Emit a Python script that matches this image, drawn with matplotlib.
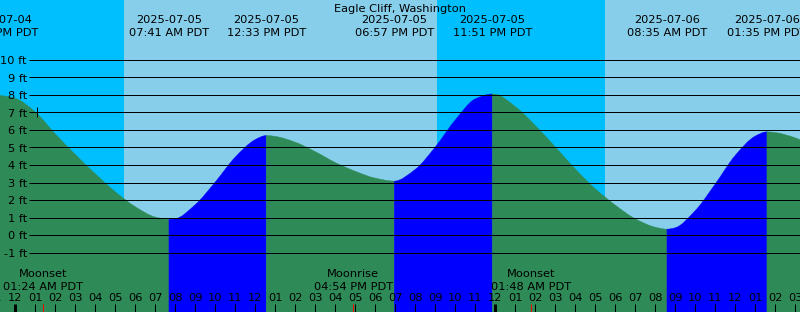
import matplotlib
matplotlib.use("Agg")
import matplotlib.pyplot as plt
from matplotlib.path import Path
from matplotlib.patches import PathPatch
import numpy as np

TITLE = "Eagle Cliff, Washington"

# Time axis: hours after 2025-07-05 00:00 PDT; heights in feet
tide_hours = [-0.82, 0, 1, 2, 3, 4, 5, 6, 7, 7.683, 8, 9, 10, 11, 12, 12.55,
              13, 14, 15, 16, 17, 18, 18.95, 20, 21, 22, 23, 23.85, 24, 25,
              26, 27, 28, 29, 30, 31, 32, 32.583, 33, 34, 35, 36, 37, 37.583,
              38, 39, 39.5]
tide_ft = [7.96, 7.80, 7.02, 5.77, 4.60, 3.50, 2.47, 1.62, 1.03, 0.90, 0.93,
           1.74, 3.03, 4.45, 5.45, 5.68, 5.63, 5.30, 4.76, 4.14, 3.64, 3.25,
           3.08, 3.75, 5.03, 6.57, 7.77, 8.05, 8.04, 7.33, 6.25, 5.03, 3.77,
           2.64, 1.71, 0.93, 0.45, 0.34, 0.42, 1.40, 2.92, 4.55, 5.65, 5.89,
           5.85, 5.55, 5.30]

extreme_hours = [-0.82, 7.683, 12.55, 18.95, 23.85, 32.583, 37.583]
extreme_dates = ["2025-07-04", "2025-07-05", "2025-07-05", "2025-07-05",
                 "2025-07-05", "2025-07-06", "2025-07-06"]
extreme_times = ["11:11 PM PDT", "07:41 AM PDT", "12:33 PM PDT", "06:57 PM PDT",
                 "11:51 PM PDT", "08:35 AM PDT", "01:35 PM PDT"]

sun_hours = [5.43, 21.08, 29.48]          # sunrise, sunset, sunrise
moon_hours = [1.4, 16.9, 25.8]
moon_events = ["Moonset", "Moonrise", "Moonset"]
moon_times = ["01:24 AM PDT", "04:54 PM PDT", "01:48 AM PDT"]

hour_ticks = list(range(-1, 40))
hour_labels = ["11", "12", "01", "02", "03", "04", "05", "06", "07", "08", "09",
               "10", "11", "12", "01", "02", "03", "04", "05", "06", "07", "08",
               "09", "10", "11", "12", "01", "02", "03", "04", "05", "06", "07",
               "08", "09", "10", "11", "12", "01", "02", "03"]
midnight_hours = [0, 24]

ft_levels = [-1, 0, 1, 2, 3, 4, 5, 6, 7, 8, 9, 10]
marker_hour = 1.08
marker_ft = 7

# ---------------- layout (pixels) ----------------
W, H = 800, 312
X0, PX_HR = 15.3, 20.0
Y0, PX_FT = 235.1, 17.53
NIGHT, DAY = "#00BFFF", "#87CEEB"
FALL, RISE = "#2E8B57", "#0000FF"
FS = 8.2
PX = 0.72  # one pixel in points


def fy(ypix):
    return 1 - ypix / H


def smooth_fill_path(ts, hs, base, end_slope_zero):
    """Closed path: smooth (monotone cubic Bezier) top edge through the
    measured points, down to the base line."""
    n = len(ts)
    d = np.diff(hs) / np.diff(ts)
    m = np.zeros(n)
    for k in range(1, n - 1):
        if d[k - 1] * d[k] > 0:
            m[k] = 2 / (1 / d[k - 1] + 1 / d[k])
    m[0] = 0.0
    m[-1] = 0.0 if end_slope_zero else d[-1]
    verts = [(ts[0], base), (ts[0], hs[0])]
    codes = [Path.MOVETO, Path.LINETO]
    for k in range(n - 1):
        dt = ts[k + 1] - ts[k]
        verts += [(ts[k] + dt / 3, hs[k] + m[k] * dt / 3),
                  (ts[k + 1] - dt / 3, hs[k + 1] - m[k + 1] * dt / 3),
                  (ts[k + 1], hs[k + 1])]
        codes += [Path.CURVE4] * 3
    verts += [(ts[-1], base), (ts[0], base)]
    codes += [Path.LINETO, Path.CLOSEPOLY]
    return Path(verts, codes)


fig = plt.figure(figsize=(W / 100, H / 100), dpi=100)
ax = fig.add_axes([0, 0, 1, 1])
ax.set_axis_off()
xmin, xmax = -X0 / PX_HR, (W - X0) / PX_HR
ymax, ymin = Y0 / PX_FT, -(H - Y0) / PX_FT
ax.set_xlim(xmin, xmax)
ax.set_ylim(ymin, ymax)

# sky
edges = [xmin - 1] + sun_hours + [xmax + 1]
for i in range(len(edges) - 1):
    ax.axvspan(edges[i], edges[i + 1], color=NIGHT if i % 2 == 0 else DAY,
               lw=0, zorder=0)

# tide fill
t = np.array(tide_hours)
h = np.array(tide_ft)
bounds = extreme_hours + [tide_hours[-1]]
for i in range(len(bounds) - 1):
    msk = (t >= bounds[i] - 1e-9) & (t <= bounds[i + 1] + 1e-9)
    ts, hs = t[msk], h[msk]
    col = FALL if hs[-1] < hs[0] else RISE
    last = i == len(bounds) - 2
    path = smooth_fill_path(ts, hs, ymin - 1, not last)
    ax.add_patch(PathPatch(path, facecolor=col, edgecolor=col, lw=0.3,
                           zorder=1))

# grid lines and labels
xt = ax.get_xaxis_transform()
for lv in ft_levels:
    ax.hlines(lv, (29 - X0) / PX_HR, xmax + 1, color="black", lw=PX, zorder=3)
    ypix = Y0 - lv * PX_FT
    ax.text(27 / W, fy(ypix + 4.2), f"{lv} ft", transform=ax.transAxes,
            ha="right", va="baseline", fontsize=FS, zorder=4)

# small marker
ax.vlines(marker_hour, marker_ft - 5 / PX_FT, marker_ft + 5 / PX_FT,
          color="black", lw=PX, zorder=4)

# title and extremes labels
ax.text(0.5, fy(11.7), TITLE, transform=ax.transAxes, ha="center",
        va="baseline", fontsize=FS, zorder=5)
for hr, d, tm in zip(extreme_hours, extreme_dates, extreme_times):
    ax.text(hr, fy(23.3), d, transform=xt, ha="center", va="baseline",
            fontsize=FS, zorder=5)
    ax.text(hr, fy(36.0), tm, transform=xt, ha="center", va="baseline",
            fontsize=FS, zorder=5)

# moon labels
for hr, ev, tm in zip(moon_hours, moon_events, moon_times):
    ax.text(hr, fy(277.3), ev, transform=xt, ha="center", va="baseline",
            fontsize=FS, zorder=5)
    ax.text(hr, fy(289.7), tm, transform=xt, ha="center", va="baseline",
            fontsize=FS, zorder=5)

# hour ticks
for hr, lab in zip(hour_ticks, hour_labels):
    ax.text(hr, fy(300.7), lab, transform=xt, ha="center", va="baseline",
            fontsize=FS, zorder=5)
    lw = 3 * PX if hr in midnight_hours else PX
    ax.vlines(hr, 0, fy(304), transform=xt, color="black", lw=lw, zorder=5)
for hr in moon_hours:
    ax.vlines(hr, 0, fy(304), transform=xt, color="red", lw=PX, zorder=6)

fig.savefig("out.png", dpi=100)
